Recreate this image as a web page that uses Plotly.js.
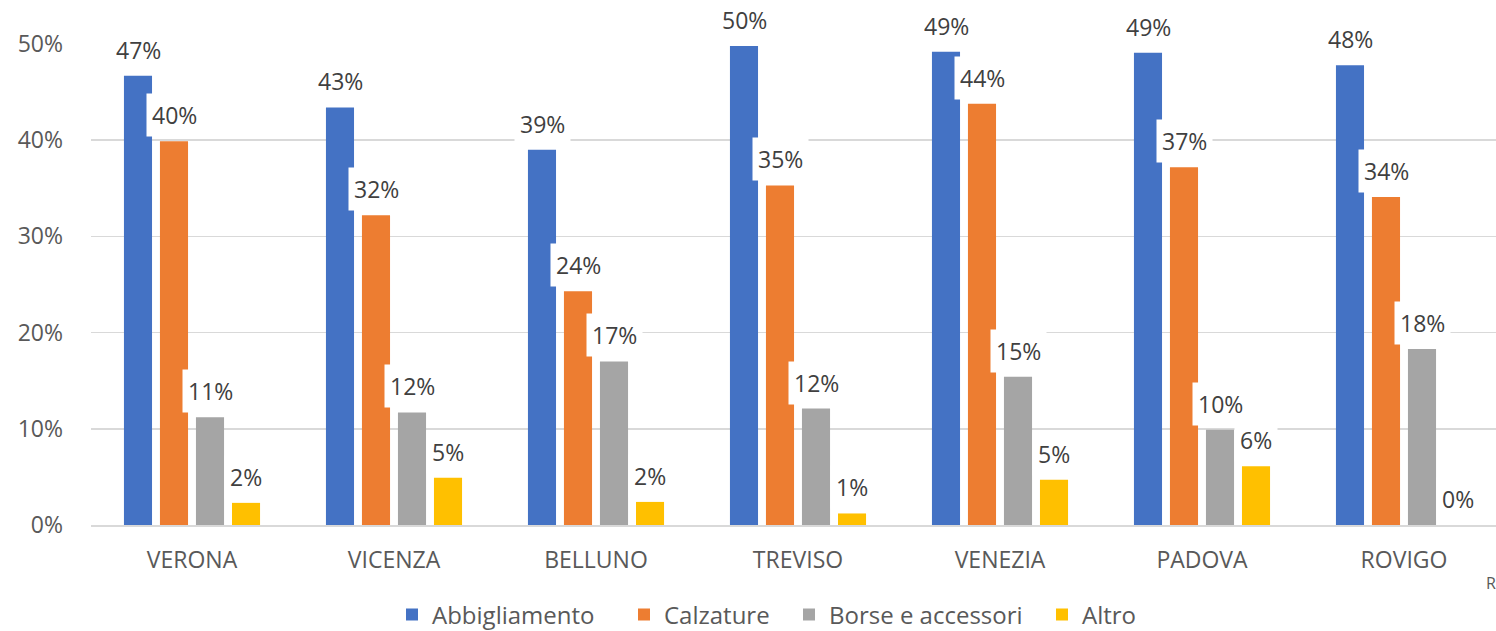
<!DOCTYPE html>
<html>
<head>
<meta charset="utf-8">
<script src="https://cdn.plot.ly/plotly-3.0.1.min.js"></script>
<style>
html,body{margin:0;padding:0;overflow:hidden;background:#fff;}
#chart{width:1505px;height:631px;}
</style>
</head>
<body>
<div id="chart"></div>
<script>
const categories = ["VERONA","VICENZA","BELLUNO","TREVISO","VENEZIA","PADOVA","ROVIGO"];
const seriesNames = ["Abbigliamento","Calzature","Borse e accessori","Altro"];
const abbigliamento = [46.7, 43.4, 39.0, 49.8, 49.2, 49.1, 47.8];
const calzature = [39.9, 32.2, 24.3, 35.3, 43.8, 37.2, 34.1];
const borse = [11.2, 11.7, 17.0, 12.1, 15.4, 9.9, 18.3];
const altro = [2.3, 4.9, 2.4, 1.2, 4.7, 6.1, 0];
const colors = ["#4472C4","#ED7D31","#A5A5A5","#FFC000"];

const allSeries = [abbigliamento, calzature, borse, altro];
const font = "'Open Sans', 'Noto Sans', sans-serif";
const grey = "#595959";
const legendIds = ["legend", "legend2", "legend3", "legend4"];
const legendLeftPx = [392, 624, 789, 1042];

const traces = allSeries.map((vals, i) => ({
  type: "bar",
  name: seriesNames[i],
  x: categories,
  y: vals,
  legend: legendIds[i],
  marker: {color: colors[i]},
  hoverinfo: "skip"
}));

const annotations = [];
allSeries.forEach((vals, i) => {
  vals.forEach((v, j) => {
    annotations.push({
      x: categories[j], y: v, xref: "x", yref: "y",
      text: Math.round(v) + "%",
      showarrow: false,
      xanchor: "center", yanchor: "middle",
      xshift: (i - 1.5) * 36,
      yshift: 26,
      bgcolor: "#ffffff",
      borderpad: 5,
      font: {family: font, size: 23, color: "#404040"}
    });
  });
});
annotations.push({
  x: (1491 - 91) / 1414, y: -(583 - 525) / 481, xref: "paper", yref: "paper",
  xanchor: "center", yanchor: "middle",
  text: "R", showarrow: false,
  font: {family: font, size: 16, color: grey}
});

const layout = {
  width: 1505, height: 631,
  margin: {l: 91, r: 0, t: 44, b: 106, autoexpand: false},
  paper_bgcolor: "#ffffff", plot_bgcolor: "#ffffff",
  barmode: "group",
  bargap: 0.287,
  bargroupgap: 0.22,
  showlegend: true,
  xaxis: {
    type: "category",
    showgrid: false,
    showline: true, linecolor: "#d9d9d9", linewidth: 1.5,
    ticks: "", ticklabelstandoff: 14,
    tickfont: {family: font, size: 23, color: grey},
    fixedrange: true
  },
  yaxis: {
    range: [0, 50], dtick: 10, ticksuffix: "%",
    showgrid: true, gridcolor: "#d9d9d9", gridwidth: 1.5,
    zeroline: false, showline: false,
    ticks: "", ticklabelstandoff: 27,
    tickfont: {family: font, size: 23, color: grey},
    fixedrange: true
  },
  annotations: annotations
};
legendIds.forEach((id, i) => {
  layout[id] = {
    orientation: "h", x: (legendLeftPx[i] - 91) / 1414, xanchor: "left",
    y: -(615 - 525) / 481, yanchor: "middle",
    font: {family: font, size: 24, color: grey},
    itemwidth: 30, bgcolor: "rgba(0,0,0,0)"
  };
});

Plotly.newPlot("chart", traces, layout, {displayModeBar: false, staticPlot: true});
</script>
</body>
</html>
